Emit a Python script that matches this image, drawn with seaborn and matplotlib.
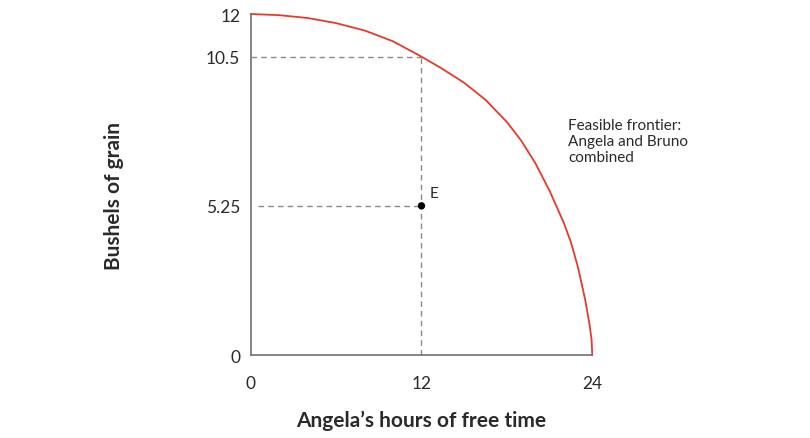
import matplotlib
matplotlib.use("Agg")
import matplotlib.pyplot as plt
import seaborn as sns
import pandas as pd

# frontier: Angela's free time (h) vs bushels of grain
free_time = [0, 2, 4, 6, 8, 10, 12, 13.5, 15, 16.5, 18, 19, 20, 21, 22,
             22.5, 23, 23.5, 23.8, 23.95, 24]
grain = [12, 11.96, 11.86, 11.68, 11.42, 11.04, 10.5, 10.06, 9.58, 8.98, 8.2,
         7.55, 6.75, 5.78, 4.65, 3.97, 3.08, 1.95, 1.1, 0.55, 0]

point_e = (12, 5.25)
x_ticks = [0, 12, 24]
y_ticks = [0, 5.25, 10.5, 12]
y_tick_labels = ["0", "5.25", "10.5", "12"]

frontier = pd.DataFrame({"free_time": free_time, "grain": grain})

sns.set_style("white")
plt.rcParams["font.family"] = ["Lato", "DejaVu Sans"]

fig = plt.figure(figsize=(8.1, 4.39), dpi=100)
ax = fig.add_axes([0.3095, 0.189, 0.4217, 0.7768])

axis_grey = "#707070"
dash_grey = "#8a8a8a"
text_col = "#2a2a2a"

# dashed guides
ax.plot([0, 12], [10.5, 10.5], ls=(0, (4, 3)), color=dash_grey, lw=1)
ax.plot([12, 12], [0, 10.5], ls=(0, (4, 3)), color=dash_grey, lw=1)
ax.plot([0.5, 12], [5.25, 5.25], ls=(0, (4, 3)), color=dash_grey, lw=1)

sns.lineplot(data=frontier, x="free_time", y="grain", ax=ax, color="#e6392b",
             lw=1.3, sort=False, clip_on=False)
sns.scatterplot(x=[point_e[0]], y=[point_e[1]], ax=ax, color="black", s=28,
                edgecolor="none", zorder=5)
ax.text(point_e[0] + 0.55, point_e[1] + 0.2, "E", fontsize=11, color=text_col,
        va="bottom", ha="left")

ax.text(22.3, 8.35, "Feasible frontier:\nAngela and Bruno\ncombined", fontsize=11,
        color=text_col, va="top", ha="left", linespacing=1.2)

ax.set_xlim(0, 24)
ax.set_ylim(0, 12)
ax.set_xticks(x_ticks)
ax.set_xticklabels([str(t) for t in x_ticks])
ax.set_yticks(y_ticks)
ax.set_yticklabels(y_tick_labels)
ax.tick_params(axis="both", labelsize=12.5, colors=axis_grey, labelcolor=text_col,
               length=4.5, width=1, direction="out")
ax.tick_params(axis="x", pad=10)
ax.tick_params(axis="y", pad=3)

sns.despine(ax=ax)
for side in ["left", "bottom"]:
    ax.spines[side].set_color(axis_grey)
    ax.spines[side].set_linewidth(1.2)

ax.set_xlabel("Angela\u2019s hours of free time", fontsize=15, fontweight="bold",
              color=text_col)
ax.set_ylabel("Bushels of grain", fontsize=15, fontweight="bold", color=text_col)
ax.xaxis.set_label_coords(0.5, -0.16)
ax.yaxis.set_label_coords(-0.371, 0.47)

fig.savefig("out.png", dpi=100)
